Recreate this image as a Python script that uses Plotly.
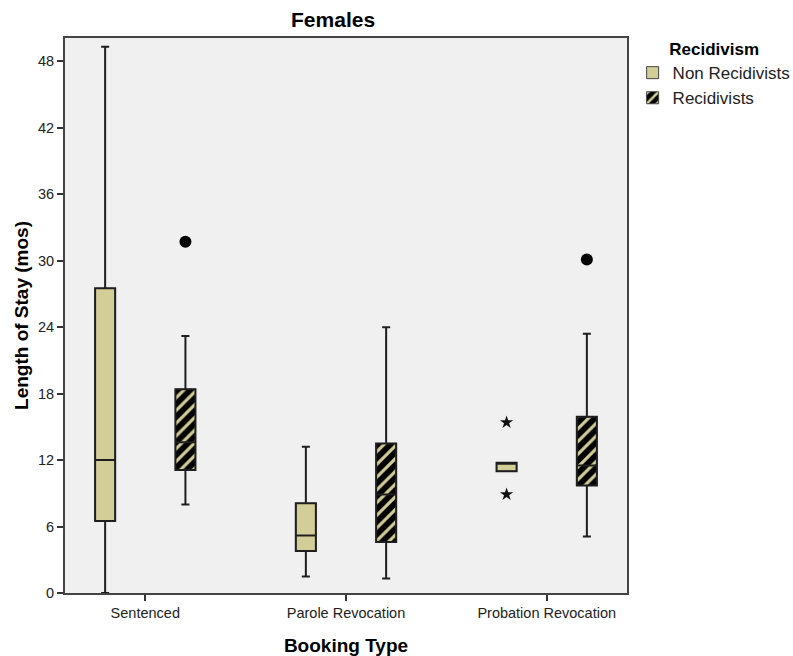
import plotly.graph_objects as go

# Booking types on the x axis
categories = ["Sentenced", "Parole Revocation", "Probation Revocation"]

# Five-number summaries of length of stay (months), one value per booking type
non_q1 = [6.5, 3.8, 11.0]
non_median = [12.0, 5.2, 11.7]
non_q3 = [27.5, 8.1, 11.75]
non_lower = [0.0, 1.5, 11.0]
non_upper = [49.3, 13.2, 11.75]

rec_q1 = [11.1, 4.6, 9.7]
rec_median = [13.6, 8.9, 11.5]
rec_q3 = [18.4, 13.5, 15.9]
rec_lower = [8.0, 1.3, 5.1]
rec_upper = [23.2, 24.0, 23.4]

# Outliers (circles) and extreme values (stars): (booking type index, value)
non_extremes = [(2, 15.4), (2, 8.9)]
rec_outliers = [(0, 31.7), (2, 30.1)]

y_ticks = [0, 6, 12, 18, 24, 30, 36, 42, 48]

KHAKI = "#d3ce98"
EDGE = "#1e1e1e"
OFFSET = 0.2       # shift of each group from the category centre
BOX_W = 0.1        # box width in x units
FONT = "Liberation Sans, Arial, sans-serif"

idx = list(range(len(categories)))
x_non = [i - OFFSET for i in idx]
x_rec = [i + OFFSET for i in idx]

fig = go.Figure()

# Box bodies as floating bars (carry the fill / hatch and the legend swatch)
fig.add_trace(go.Bar(
    x=x_non, base=non_q1, y=[q3 - q1 for q1, q3 in zip(non_q1, non_q3)],
    width=BOX_W, name="Non Recidivists",
    marker=dict(color=KHAKI, line=dict(color="#444", width=1)),
    hoverinfo="skip",
))
fig.add_trace(go.Bar(
    x=x_rec, base=rec_q1, y=[q3 - q1 for q1, q3 in zip(rec_q1, rec_q3)],
    width=BOX_W, name="Recidivists",
    marker=dict(color="black", line=dict(color="#444", width=1),
                pattern=dict(shape="/", fgcolor=KHAKI, bgcolor="black",
                             size=9, solidity=0.35, fillmode="replace")),
    hoverinfo="skip",
))

# Outlines, medians and whiskers
for xs, q1, med, q3, lo, hi in [
    (x_non, non_q1, non_median, non_q3, non_lower, non_upper),
    (x_rec, rec_q1, rec_median, rec_q3, rec_lower, rec_upper),
]:
    fig.add_trace(go.Box(
        x=xs, q1=q1, median=med, q3=q3, lowerfence=lo, upperfence=hi,
        width=BOX_W, whiskerwidth=0.4,
        fillcolor="rgba(0,0,0,0)", line=dict(color=EDGE, width=2),
        showlegend=False, hoverinfo="skip",
    ))

# Extreme values and outliers
fig.add_trace(go.Scatter(
    x=[i - OFFSET for i, _ in non_extremes], y=[v for _, v in non_extremes],
    mode="markers", marker=dict(symbol="star", size=10, color="#111"),
    showlegend=False, hoverinfo="skip",
))
fig.add_trace(go.Scatter(
    x=[i + OFFSET for i, _ in rec_outliers], y=[v for _, v in rec_outliers],
    mode="markers", marker=dict(symbol="circle", size=12, color="black"),
    showlegend=False, hoverinfo="skip",
))

fig.update_layout(
    width=793, height=656,
    margin=dict(l=65, r=166, t=38, b=63, autoexpand=False),
    paper_bgcolor="white", plot_bgcolor="#f0f0f0",
    font=dict(family=FONT, size=14, color="#222"),
    barmode="overlay", boxmode="overlay",
    title=dict(text="<b>Females</b>", font=dict(size=21, color="black"),
               x=0.477, xref="paper", xanchor="center",
               y=1 - 20 / 656, yref="container", yanchor="middle"),
    legend=dict(
        title=dict(text="<b>Recidivism</b>", side="top center",
                   font=dict(size=17, color="black")),
        font=dict(size=17, color="#222"),
        x=1.01, xanchor="left", y=1.009, yanchor="top",
        bgcolor="rgba(0,0,0,0)", itemwidth=30, tracegroupgap=0,
    ),
    showlegend=True,
)

fig.update_xaxes(
    range=[-0.4, 2.4], tickvals=idx, ticktext=categories,
    ticks="outside", ticklen=6, tickwidth=2, tickcolor="#333",
    showgrid=False, zeroline=False, automargin=False,
    showline=True, linecolor="#444", linewidth=2, mirror=True,
    tickfont=dict(size=14.5, color="#222"),
    title=dict(text="<b>Booking Type</b>", font=dict(size=19, color="black"),
               standoff=18),
)
fig.update_yaxes(
    range=[0, 50.1], tickvals=y_ticks,
    ticks="outside", ticklen=6, tickwidth=2, tickcolor="#333",
    showgrid=False, zeroline=False, automargin=False,
    showline=True, linecolor="#444", linewidth=2, mirror=True,
    tickfont=dict(size=14.5, color="#222"),
    title=dict(text="<b>Length of Stay (mos)</b>", font=dict(size=19, color="black"),
               standoff=4),
)

fig.write_html("out.html")
